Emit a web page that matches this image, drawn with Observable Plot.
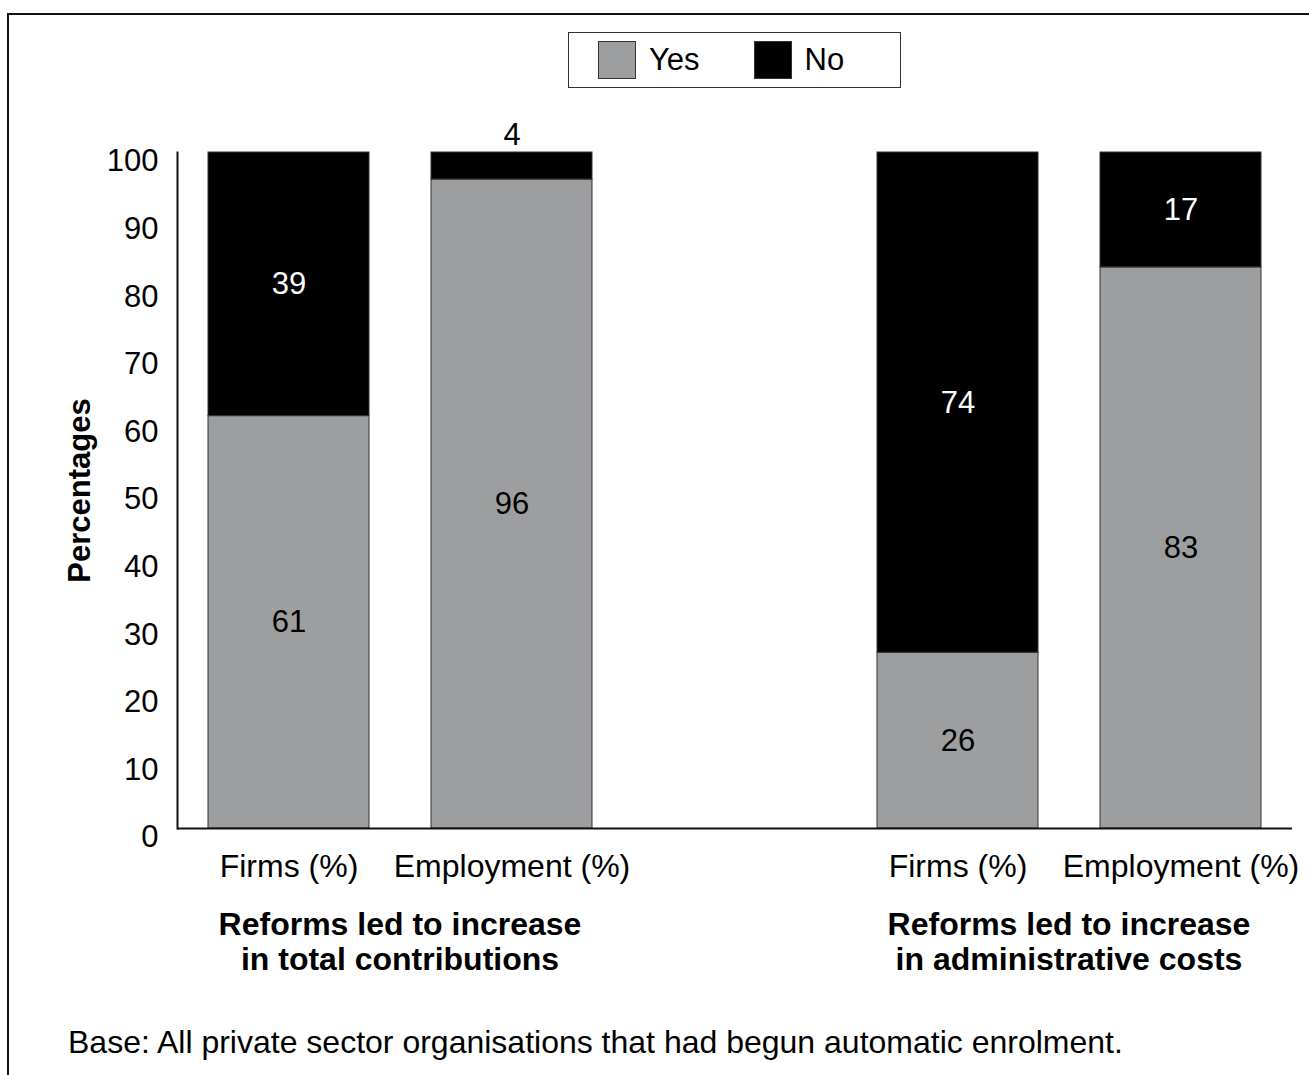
<!DOCTYPE html>
<html><head><meta charset="utf-8">
<script src="https://cdn.jsdelivr.net/npm/d3@7"></script>
<script src="https://cdn.jsdelivr.net/npm/@observablehq/plot@0.6"></script>
<style>
html,body{margin:0;padding:0;background:#fff;overflow:hidden;}
body{width:1309px;height:1075px;position:relative;font-family:"Liberation Sans",Arial,sans-serif;color:#000;}
#frame{position:absolute;left:7px;top:13px;width:1400px;height:1200px;border:2px solid #111;box-sizing:border-box;}
#legend{position:absolute;left:568px;top:32px;width:333px;height:56px;box-sizing:border-box;border:1px solid #333;display:flex;align-items:center;padding-left:29px;font-size:31px;background:#fff;}
.sw{width:38px;height:38px;box-sizing:border-box;border:1px solid #333;flex:none;}
.lt{margin-left:13px;margin-right:54px;}
#chart{position:absolute;left:0;top:100px;}
#caption{position:absolute;left:68px;top:1025px;font-size:32px;line-height:34px;white-space:nowrap;}
</style></head>
<body>
<div id="frame"></div>
<div id="legend"></div>
<div id="chart"></div>
<div id="caption"></div>
<script>
// ---- data ----
const groups = ["Reforms led to increase\nin total contributions", "Reforms led to increase\nin administrative costs"];
const measures = ["Firms (%)", "Employment (%)"];
const answers = ["Yes", "No"];
const answerColors = ["#9d9ea0", "#000000"];
const yesValues = [61, 96, 26, 83];
const noValues = [39, 4, 74, 17];
const yTicks = [0, 10, 20, 30, 40, 50, 60, 70, 80, 90, 100];
const captionText = "Base: All private sector organisations that had begun automatic enrolment.";

// ---- build table ----
const barKeys = [];
groups.forEach((g, gi) => measures.forEach(m => barKeys.push(`${gi}|${m}`)));
const xDomain = [barKeys[0], barKeys[1], "spacer", barKeys[2], barKeys[3]];
const rows = [];
barKeys.forEach((k, i) => {
  rows.push({key: k, answer: "Yes", value: yesValues[i]});
  rows.push({key: k, answer: "No", value: noValues[i]});
});

const font = '"Liberation Sans", Arial, sans-serif';
const FS = 32;
const plot = Plot.plot({
  width: 1309, height: 910,
  marginTop: 52, marginBottom: 182, marginLeft: 177, marginRight: 17,
  style: {fontFamily: font, fontSize: FS + "px", color: "#000", background: "transparent", overflow: "visible"},
  x: {domain: xDomain, paddingInner: 0.278, paddingOuter: 0.139, label: null},
  y: {domain: [0, 100], label: null},
  color: {domain: answers, range: answerColors},
  marks: [
    Plot.barY(rows, {x: "key", y: "value", fill: "answer", stroke: "#333", strokeWidth: 1}),
    Plot.text(rows, Plot.stackY({x: "key", y: "value", text: d => d.answer === "Yes" && d.value >= 10 ? String(d.value) : "", fill: "#000", fontSize: 31})),
    Plot.text(rows, Plot.stackY({x: "key", y: "value", text: d => d.answer === "No" && d.value >= 10 ? String(d.value) : "", fill: "#fff", fontSize: 31})),
    Plot.text(rows, Plot.stackY2({x: "key", y: "value", text: d => d.value < 10 ? String(d.value) : "", fill: "#000", dy: -17, fontSize: 31})),
    Plot.axisY({ticks: yTicks, tickSize: 0, tickPadding: 19, dy: 9, label: null, fontSize: 31}),
    Plot.axisX({ticks: barKeys, tickSize: 0, tickPadding: 26, tickFormat: k => k.split("|")[1], label: null, fontSize: FS}),
    Plot.frame({anchor: "left", stroke: "#111", strokeWidth: 2}),
    Plot.ruleY([0], {stroke: "#111", strokeWidth: 2}),
    Plot.text(["Percentages"], {frameAnchor: "left", textAnchor: "middle", dx: -97, rotate: -90, fontWeight: "bold", fontSize: 31})
  ]
});

// group titles positioned from the x/y scales
const xs = plot.scale("x"), ys = plot.scale("y");
groups.forEach((g, gi) => {
  const k1 = barKeys[gi * 2], k2 = barKeys[gi * 2 + 1];
  const cx = (xs.apply(k1) + xs.apply(k2)) / 2 + xs.bandwidth / 2;
  const t = d3.select(plot).append("text")
    .attr("text-anchor", "middle").attr("font-weight", "bold")
    .attr("font-size", FS).attr("font-family", font).attr("fill", "#000");
  g.split("\n").forEach((line, j) => {
    t.append("tspan").attr("x", cx).attr("y", ys.apply(0) + 96 + j * 35).attr("dy", "0.35em").text(line);
  });
});
document.getElementById("chart").appendChild(plot);

// legend built from the color scale
const cs = plot.scale("color");
const legend = d3.select("#legend");
cs.domain.forEach((a, i) => {
  legend.append("div").attr("class", "sw").style("background", cs.range[i]);
  legend.append("div").attr("class", "lt").text(a);
});
document.getElementById("caption").textContent = captionText;
</script>
</body></html>
